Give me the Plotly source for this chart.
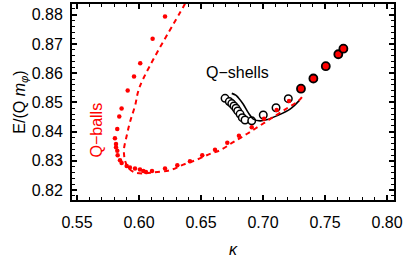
import plotly.graph_objects as go

# Q-balls numerical (small red dots)
qb_k = [0.6210, 0.6110, 0.6010, 0.5960, 0.5909, 0.5860, 0.5841, 0.5825, 0.5806, 0.5815,
        0.5815, 0.5825, 0.5828, 0.5847, 0.5860, 0.5901, 0.5927, 0.5968, 0.6008, 0.6035,
        0.6056, 0.6105, 0.6210, 0.6309, 0.6411, 0.6510, 0.6613, 0.6712, 0.6806, 0.6909,
        0.7008, 0.7110, 0.7210]
qb_E = [0.8794, 0.8718, 0.8634, 0.8589, 0.8541, 0.8479, 0.8452, 0.8409, 0.8377, 0.8358,
        0.8347, 0.8335, 0.8319, 0.8302, 0.8293, 0.8282, 0.8277, 0.8274, 0.8270, 0.8265,
        0.8262, 0.8265, 0.8274, 0.8285, 0.8299, 0.8319, 0.8338, 0.8362, 0.8386, 0.8415,
        0.8444, 0.8474, 0.8505]

# Q-balls analytic (red dashed)
qbt_k = [0.6371, 0.6357, 0.6008, 0.5968, 0.5927, 0.5901, 0.5879, 0.5880, 0.5887, 0.5914,
         0.5968, 0.6040, 0.6115, 0.6250, 0.6357, 0.6465, 0.6573, 0.6653, 0.6760, 0.6869,
         0.6980, 0.7090, 0.7200, 0.7285, 0.7325]
qbt_E = [0.8838, 0.8827, 0.8556, 0.8488, 0.8432, 0.8386, 0.8341, 0.8320, 0.8302, 0.8276,
         0.8260, 0.8257, 0.8260, 0.8268, 0.8287, 0.8304, 0.8324, 0.8336, 0.8364, 0.8392,
         0.8422, 0.8452, 0.8482, 0.8505, 0.8525]

# Q-shells analytic (black solid)
qst_k = [0.6748, 0.6780, 0.6801, 0.6841, 0.6881, 0.6922, 0.6976, 0.7030, 0.7110, 0.7218, 0.7293]
qst_E = [0.8531, 0.8525, 0.8516, 0.8494, 0.8465, 0.8443, 0.8437, 0.8441, 0.8454, 0.8477, 0.8507]

# Q-shells numerical (open circles)
qs_k = [0.6694, 0.6728, 0.6748, 0.6766, 0.6782, 0.6796, 0.6815, 0.6833, 0.6855, 0.6909,
        0.7002, 0.7105, 0.7204]
qs_E = [0.8514, 0.8503, 0.8496, 0.8488, 0.8480, 0.8471, 0.8460, 0.8448, 0.8440, 0.8437,
        0.8457, 0.8482, 0.8513]

# filled red circles
qf_k = [0.7306, 0.7406, 0.7506, 0.7607, 0.7648]
qf_E = [0.8547, 0.8582, 0.8624, 0.8665, 0.8684]

x_ticks = [0.55, 0.60, 0.65, 0.70, 0.75, 0.80]
x_labels = ["0.55", "0.60", "0.65", "0.70", "0.75", "0.80"]
y_ticks = [0.82, 0.83, 0.84, 0.85, 0.86, 0.87, 0.88]
y_labels = ["0.82", "0.83", "0.84", "0.85", "0.86", "0.87", "0.88"]

FONT = "Liberation Sans, Arial, sans-serif"

fig = go.Figure()
fig.add_trace(go.Scatter(x=qs_k, y=qs_E, mode="markers",
                         marker=dict(size=7.5, color="white", line=dict(color="black", width=1.5))))
fig.add_trace(go.Scatter(x=qst_k, y=qst_E, mode="lines", line=dict(color="black", width=1.6, shape="spline")))
fig.add_trace(go.Scatter(x=qb_k, y=qb_E, mode="markers", marker=dict(size=4.5, color="#ff0000")))
fig.add_trace(go.Scatter(x=qbt_k, y=qbt_E, mode="lines",
                         line=dict(color="#ff0000", width=2, dash="5px,4px", shape="spline")))
fig.add_trace(go.Scatter(x=qf_k, y=qf_E, mode="markers",
                         marker=dict(size=8, color="#ff0000", line=dict(color="black", width=1.8))))

fig.add_annotation(x=0.6798, y=0.8603, text="Q\u2212shells", showarrow=False,
                   font=dict(family=FONT, size=16, color="black"))
fig.add_annotation(x=0.5661, y=0.8407, text="Q\u2212balls", showarrow=False, textangle=-90,
                   font=dict(family=FONT, size=16, color="#ff0000"))

fig.update_layout(
    width=407, height=258,
    margin=dict(l=72, r=13, t=2, b=58),
    paper_bgcolor="white", plot_bgcolor="white",
    showlegend=False,
    font=dict(family=FONT, size=16, color="black"),
    xaxis=dict(range=[0.546, 0.8056], tickvals=x_ticks, ticktext=x_labels,
               showgrid=False, zeroline=False, showline=True, linecolor="black", linewidth=2,
               mirror="ticks", ticks="inside", ticklen=5, tickwidth=1.5, tickcolor="black",
               minor=dict(dtick=0.01, ticks="inside", ticklen=3, tickwidth=1.2, tickcolor="black", showgrid=False),
               tickfont=dict(size=16), ticklabelstandoff=7,
               title=dict(text="<i>κ</i>", font=dict(size=16), standoff=14)),
    yaxis=dict(range=[0.8166, 0.8837], tickvals=y_ticks, ticktext=y_labels,
               showgrid=False, zeroline=False, showline=True, linecolor="black", linewidth=2,
               mirror="ticks", ticks="inside", ticklen=5, tickwidth=1.5, tickcolor="black",
               minor=dict(dtick=0.002, tick0=0.82, ticks="inside", ticklen=3, tickwidth=1.2, tickcolor="black", showgrid=False),
               tickfont=dict(size=16), ticklabelstandoff=4,
               title=dict(text="E/(Q <i>m</i><sub><i>φ</i></sub>)", font=dict(size=16), standoff=2)),
)

fig.write_html("out.html", config={"displayModeBar": False},
               post_script="document.body.style.margin='0';document.body.style.overflow='hidden';")
